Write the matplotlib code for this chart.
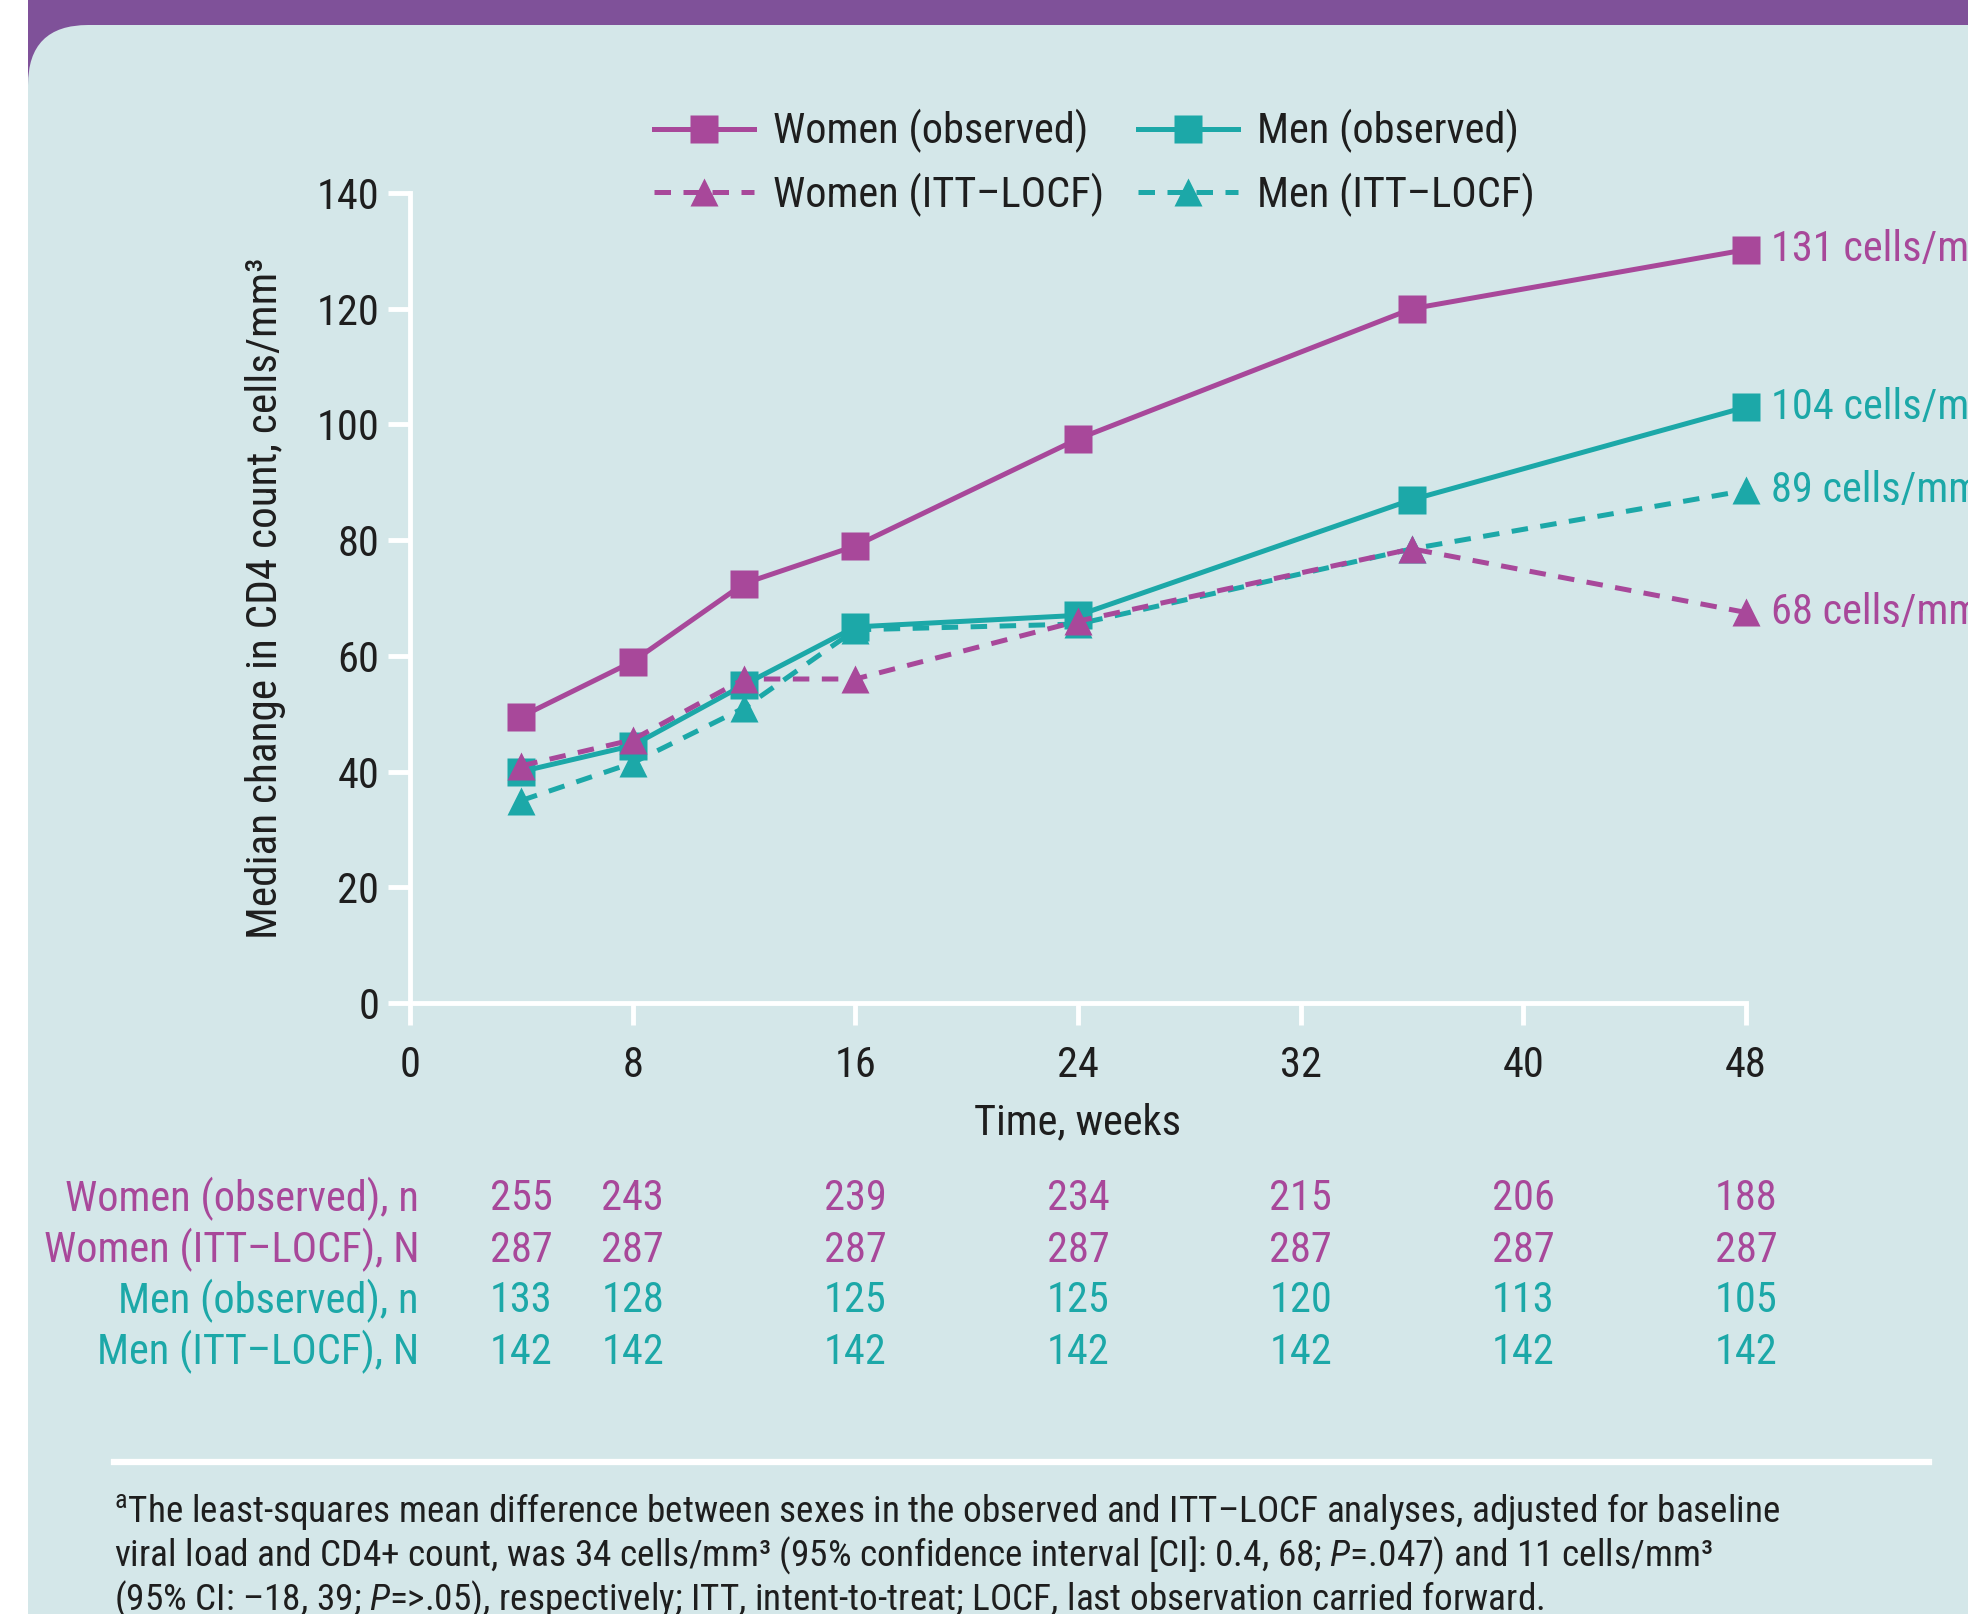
#!/usr/bin/env python3
"""Median change in CD4 count by sex, observed vs ITT-LOCF, with n table and footnote."""

import matplotlib
matplotlib.use("Agg")
import matplotlib.pyplot as plt
from matplotlib import font_manager as fm
from matplotlib.patches import FancyBboxPatch, Rectangle
from matplotlib.lines import Line2D
import matplotlib.transforms as mtransforms

# ---- data -------------------------------------------------------------
weeks = [4, 8, 12, 16, 24, 36, 48]
women_obs = [49.5, 59, 72.5, 79, 97.5, 120, 130.2]
men_obs = [40, 44.5, 55, 65, 67, 87, 103]
women_itt = [41, 45.5, 56, 56, 66, 78.5, 67.5]
men_itt = [35, 41.5, 51, 64.5, 65.5, 78.5, 88.6]

end_labels = ["131 cells/mm\u00b3", "104 cells/mm\u00b3", "89 cells/mm\u00b3", "68 cells/mm\u00b3"]

table_weeks = [4, 8, 16, 24, 32, 40, 48]
table_rows = ["Women (observed), n", "Women (ITT\u2013LOCF), N",
              "Men (observed), n", "Men (ITT\u2013LOCF), N"]
women_obs_n = [255, 243, 239, 234, 215, 206, 188]
women_itt_n = [287, 287, 287, 287, 287, 287, 287]
men_obs_n = [133, 128, 125, 125, 120, 113, 105]
men_itt_n = [142, 142, 142, 142, 142, 142, 142]

x_ticks = [0, 8, 16, 24, 32, 40, 48]
y_ticks = [0, 20, 40, 60, 80, 100, 120, 140]

footnote = [
    "$^{\\rm a}$The least-squares mean difference between sexes in the observed and ITT\u2013LOCF analyses, adjusted for baseline",
    "viral load and CD4+ count, was 34 cells/mm\u00b3 (95% confidence interval [CI]: 0.4, 68; $\\it{P}$=.047) and 11 cells/mm\u00b3",
    "(95% CI: \u201318, 39; $\\it{P}$=>.05), respectively; ITT, intent-to-treat; LOCF, last observation carried forward.",
]

# ---- font: prefer a narrow/condensed face, like the original ----------
CONDENSED = ("condensed", "semi-condensed", "extra-condensed", "ultra-condensed")
narrow = [f for f in fm.fontManager.ttflist
          if f.style == "normal" and f.weight in (400, "normal", "regular")
          and (f.stretch in CONDENSED or "Narrow" in f.name or "Condensed" in f.name)]
prefs = ["Liberation Sans Narrow", "Roboto Condensed", "Open Sans Condensed",
         "Noto Sans Condensed", "Noto Sans", "Open Sans", "Roboto", "DejaVu Sans Condensed", "DejaVu Sans"]
chosen = None
for p in prefs:
    for f in narrow:
        if f.name == p and f.stretch in ("condensed", "normal"):
            chosen = f
            break
    if chosen:
        break
if chosen is None and narrow:
    chosen = narrow[0]
FAMILY = chosen.name if chosen else "Liberation Sans"
STRETCH = chosen.stretch if chosen else "normal"

plt.rcParams["font.family"] = [FAMILY, "Liberation Sans", "DejaVu Sans"]
plt.rcParams["font.stretch"] = STRETCH
plt.rcParams["mathtext.fontset"] = "custom"
plt.rcParams["mathtext.rm"] = FAMILY
plt.rcParams["mathtext.it"] = f"{FAMILY}:italic"

# ---- style ------------------------------------------------------------
WOMEN = "#a8489a"
MEN = "#1ca8a8"
PANEL = "#d4e7e9"
BAND = "#7f5199"
INK = "#1e1e1e"
W, H = 1968, 1614

fig = plt.figure(figsize=(W / 100, H / 100), dpi=100)
fig.patch.set_facecolor("white")
renderer = fig.canvas.get_renderer()


def fit_size(text, target_px, base=30):
    t = fig.text(0, 0, text, fontsize=base)
    w = t.get_window_extent(renderer).width
    t.remove()
    return base * target_px / w


FS = fit_size("Women (ITT\u2013LOCF), N", 376)
FS_Y = fit_size("Median change in CD4 count, cells/mm\u00b3", 681)
FS_NOTE = fit_size(footnote[0].replace("$^{\\rm a}$", ""), 1650)
px_per_em = FS * 100 / 72

# background: purple band + rounded panel
fig.patches.append(Rectangle((28 / W, 1 - 120 / H), 1, 120 / H, transform=fig.transFigure,
                             facecolor=BAND, edgecolor="none", zorder=-2))
fig.patches.append(FancyBboxPatch((28, -200), 2300, H + 200 - 25,
                                  boxstyle="round,pad=0,rounding_size=60",
                                  transform=mtransforms.IdentityTransform(),
                                  facecolor=PANEL, edgecolor="none", zorder=-1))

ax = fig.add_axes([410 / W, 1 - 1003 / H, (1746 - 410) / W, (1003 - 193) / H])
ax.set_facecolor("none")
ax.set_xlim(0, 48)
ax.set_ylim(0, 140)
for s in ("top", "right"):
    ax.spines[s].set_visible(False)
for s in ("left", "bottom"):
    ax.spines[s].set_color("white")
    ax.spines[s].set_linewidth(3.5)
ax.tick_params(colors="white", width=3.5, length=16, labelsize=FS, labelcolor=INK)
ax.tick_params(axis="y", pad=6)
ax.tick_params(axis="x", pad=14)
ax.set_xticks(x_ticks)
ax.set_yticks(y_ticks)

lw = 3.6
ms = 20.5
dash = (3.3, 2.5)
series = [
    (men_obs, MEN, "s", "-", "Men (observed)"),
    (men_itt, MEN, "^", "--", "Men (ITT\u2013LOCF)"),
    (women_itt, WOMEN, "^", "--", "Women (ITT\u2013LOCF)"),
    (women_obs, WOMEN, "s", "-", "Women (observed)"),
]
handles = {}
for vals, col, mk, ls, lab in series:
    ln, = ax.plot(weeks, vals, color=col, lw=lw, marker=mk, ms=ms, mec="none",
                  ls=ls, clip_on=False, label=lab)
    if ls == "--":
        ln.set_dashes(dash)
    handles[lab] = ln

for vals, col, txt in [(women_obs, WOMEN, end_labels[0]), (men_obs, MEN, end_labels[1]),
                       (men_itt, MEN, end_labels[2]), (women_itt, WOMEN, end_labels[3])]:
    ax.annotate(txt, (weeks[-1], vals[-1]), xytext=(18, 0), textcoords="offset points",
                color=col, fontsize=FS, ha="left", va="center", annotation_clip=False)

ax.set_ylabel("Median change in CD4 count, cells/mm\u00b3", fontsize=FS_Y, color=INK, labelpad=22)
ax.set_xlabel("Time, weeks", fontsize=FS, color=INK, labelpad=12)

order = ["Women (observed)", "Women (ITT\u2013LOCF)", "Men (observed)", "Men (ITT\u2013LOCF)"]
leg = fig.legend([handles[k] for k in order], order, loc="center",
                 bbox_to_anchor=(0.556, 1 - 163 / H), ncol=2, frameon=False,
                 fontsize=FS, handlelength=100 / px_per_em, handletextpad=19 / px_per_em,
                 columnspacing=34 / px_per_em, labelspacing=0.45)
for t in leg.get_texts():
    t.set_color(INK)

# ---- n table ----------------------------------------------------------
trans = mtransforms.blended_transform_factory(ax.transData, fig.transFigure)
row_y = [1199, 1250, 1301, 1352]
row_cols = [WOMEN, WOMEN, MEN, MEN]
row_vals = [women_obs_n, women_itt_n, men_obs_n, men_itt_n]
for name, yy, col, vals in zip(table_rows, row_y, row_cols, row_vals):
    fig.text(419 / W, 1 - yy / H, name, color=col, fontsize=FS, ha="right", va="center")
    for wk, v in zip(table_weeks, vals):
        fig.text(wk, 1 - yy / H, str(v), transform=trans, color=col, fontsize=FS,
                 ha="center", va="center")

# separator + footnote
fig.add_artist(Line2D([114 / W, 1929 / W], [1 - 1462 / H, 1 - 1462 / H], color="white", lw=4.5))
for i, line in enumerate(footnote):
    fig.text(114 / W, 1 - (1512 + 44 * i) / H, line, color=INK, fontsize=FS_NOTE,
             ha="left", va="center")

fig.savefig("out.png", dpi=100)
